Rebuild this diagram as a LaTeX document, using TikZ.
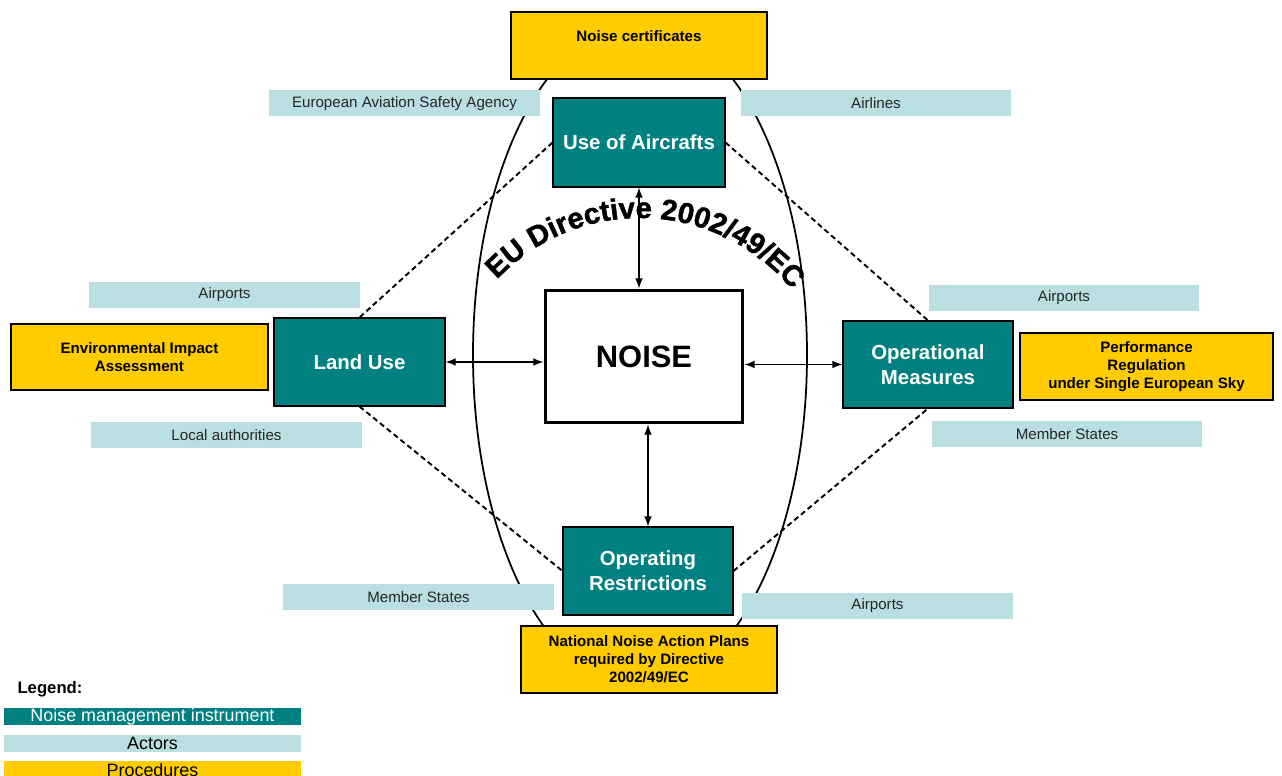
\documentclass[tikz,border=0pt]{standalone}
\usepackage{fontspec}
\setmainfont{Liberation Sans}
\newfontfamily\heavyfont{Liberation Sans Bold}[FakeBold=1.5]
\usetikzlibrary{positioning,decorations.text}
\definecolor{instrteal}{RGB}{0,128,128}
\definecolor{actorblue}{RGB}{185,223,226}
\definecolor{procyellow}{RGB}{255,204,0}
\newcommand{\arcfont}{\heavyfont\fontsize{16.6}{17}\selectfont}

\begin{document}
\begin{tikzpicture}[x=0.02cm, y=-0.02cm,
		instr/.style={draw=black, line width=0.6pt, fill=instrteal, text=white, font=\bfseries\fontsize{11.6}{14.2}\selectfont, align=center, inner sep=0pt, minimum width=3.42cm, minimum height=1.76cm},
		actor/.style={fill=actorblue, text=black!85, font=\fontsize{8.6}{10}\selectfont, inner sep=0pt, minimum width=5.42cm, minimum height=0.52cm},
		proc/.style={draw=black, line width=0.8pt, fill=procyellow, font=\bfseries\fontsize{8.6}{10.3}\selectfont, align=center, inner sep=0pt, minimum width=5.12cm, minimum height=1.34cm},
		legbar/.style={inner sep=0pt, minimum width=5.94cm, minimum height=0.34cm, font=\fontsize{10.2}{12}\selectfont},
		dashline/.style={dash pattern=on 3pt off 2pt, line width=1.1pt},
		twoway/.style={latex-latex, line width=1pt}]
		\useasboundingbox (0,0) rectangle (1282,776);
		\draw[line width=1pt] (640,355) ellipse [x radius=167, y radius=332];
		\node[proc] (cert) at (639,45.5) {};
		\node[font=\bfseries\fontsize{8.6}{10}\selectfont] (certtext) at (639,36) {Noise certificates};
		\node[actor] (easa) at (404.5,103.5) {European Aviation Safety Agency};
		\node[actor] (airlines) at (876,103.5) {Airlines};
		\node[instr, minimum width=3.44cm, minimum height=1.78cm] (aircraft) at (639,142.5) {Use of Aircrafts};
		\node[actor] (airportsW) at (224.5,295) {Airports};
		\node[proc, minimum width=5.14cm, minimum height=1.32cm] (eia) at (139.5,357) {Environmental Impact\\Assessment};
		\node[instr] (landuse) at (359.5,362) {Land Use};
		\node[actor] (localauth) at (226.5,435) {Local authorities};
		\node[draw=black, line width=1.7pt, fill=white, minimum width=3.96cm, minimum height=2.66cm, font=\bfseries\fontsize{17.6}{20}\selectfont] (noise) at (644,356.5) {NOISE};
		\node[actor] (airportsE) at (1064,298) {Airports};
		\node[instr, minimum width=3.40cm, minimum height=1.74cm] (opmeas) at (928,364.5) {Operational\\Measures};
		\node[proc, minimum width=5.06cm] (perf) at (1146.5,366.5) {Performance\\Regulation\\under Single European Sky};
		\node[actor] (msE) at (1067,434) {Member States};
		\node[instr, minimum width=3.40cm] (oprest) at (648,571) {Operating\\Restrictions};
		\node[actor] (msW) at (418.5,597) {Member States};
		\node[actor] (airportsS) at (877.5,606) {Airports};
		\node[proc] (nnap) at (649,659.5) {National Noise Action Plans\\required by Directive\\2002/49/EC};
		\draw[twoway] (aircraft.south) -- (aircraft.south |- noise.north);
		\draw[twoway] (landuse.east) -- (landuse.east -| noise.west);
		\draw[twoway] (opmeas.west -| noise.east) -- (opmeas.west);
		\draw[twoway] (noise.south -| oprest.north) -- (oprest.north);
		\draw[dashline] (aircraft.west) -- (landuse.north);
		\draw[dashline] (aircraft.east) -- (opmeas.north);
		\draw[dashline] (landuse.south) -- (oprest.west);
		\draw[dashline] (oprest.east) -- (opmeas.south);
		\path[decorate, decoration={text along path, text={|\arcfont|EU Directive 2002/49/EC}, text align=center}] (640,415) ++(-137:197) arc[start angle=-137, end angle=-39, radius=197];
		\node[font=\bfseries\fontsize{9.5}{11}\selectfont] (legtitle) at (50,689) {Legend:};
		\node[legbar, fill=instrteal, text=white] (leg1) at (152.5,716.5) {Noise management instrument};
		\node[legbar, fill=actorblue, below=0.18cm of leg1] (leg2) {Actors};
		\node[legbar, fill=procyellow, below=0.18cm of leg2] (leg3) {Procedures};
\end{tikzpicture}
\end{document}
